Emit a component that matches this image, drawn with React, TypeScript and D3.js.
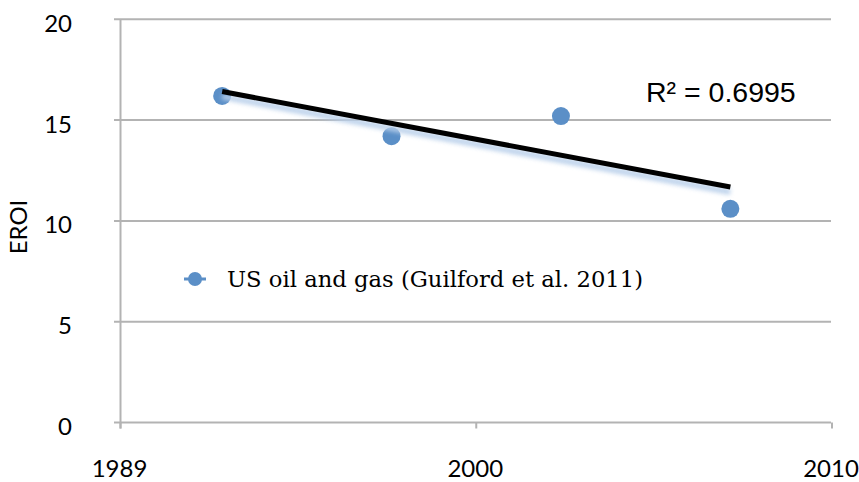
import React from "react";
import * as d3 from "d3";

const years = [1992, 1997, 2002, 2007];
const eroi = [16.2, 14.2, 15.2, 10.6];
const yTicks = [0, 5, 10, 15, 20];
const xTicks = [1989, 1999.5, 2010];
const xTickLabels = ["1989", "2000", "2010"];
const seriesName = "US oil and gas (Guilford et al. 2011)";
const yLabel = "EROI";
const r2Label = "R² = 0.6995";

export default function App() {
  const W = 859, H = 482;
  const x = d3.scaleLinear().domain([1989, 2010]).range([120.5, 832]);
  const y = d3.scaleLinear().domain([0, 20]).range([422.5, 19.3]);

  // linear regression trendline
  const mx = d3.mean(years)!;
  const my = d3.mean(eroi)!;
  let sxy = 0, sxx = 0;
  years.forEach((yr, i) => {
    sxy += (yr - mx) * (eroi[i] - my);
    sxx += (yr - mx) ** 2;
  });
  const slope = sxy / sxx;
  const intercept = my - slope * mx;
  const x0 = years[0], x1 = years[years.length - 1];
  const trend = [
    [x0, intercept + slope * x0],
    [x1, intercept + slope * x1],
  ];
  const line = d3.line<number[]>().x((d) => x(d[0])).y((d) => y(d[1]));

  const grid = "#b3b3b3";
  const blue = "#5b8fc7";

  return (
    <svg width={W} height={H} style={{ position: "absolute", left: 0, top: 0, background: "#fff" }}>
      <defs>
        <filter id="blur" x="-10%" y="-200%" width="120%" height="500%">
          <feGaussianBlur stdDeviation="2" />
        </filter>
      </defs>
      {yTicks.map((t) => (
        <g key={t}>
          <line x1={114} x2={831} y1={y(t)} y2={y(t)} stroke={grid} strokeWidth={2} />
          <text x={72} y={y(t) + 3} textAnchor="end" dominantBaseline="central" fontFamily="Lato" fontSize={24} fill="#000">
            {t}
          </text>
        </g>
      ))}
      <line x1={x(1989)} x2={x(1989)} y1={y(20)} y2={y(0) + 6} stroke={grid} strokeWidth={2} />
      {xTicks.map((t, i) => (
        <g key={t}>
          <line x1={x(t)} x2={x(t)} y1={y(0)} y2={y(0) + 6} stroke={grid} strokeWidth={2} />
          <text x={x(t) - 1} y={477} textAnchor="middle" fontFamily="Lato" fontSize={24} fill="#000">
            {xTickLabels[i]}
          </text>
        </g>
      ))}
      <text
        transform={`translate(27,227) rotate(-90)`}
        textAnchor="middle"
        fontFamily="Lato"
        fontSize={24}
        fill="#000"
      >
        {yLabel}
      </text>
      {years.map((yr, i) => (
        <circle key={yr} cx={x(yr)} cy={y(eroi[i])} r={9} fill={blue} />
      ))}
      <path d={line(trend)!} transform="translate(0,5)" stroke="#b8cfea" strokeWidth={6} fill="none" filter="url(#blur)" opacity={0.9} />
      <path d={line(trend)!} stroke="#000" strokeWidth={5} fill="none" />
      <text x={646} y={101.5} fontFamily="Liberation Sans, Arial" fontSize={28.5} fill="#000">
        {r2Label}
      </text>
      <line x1={184} x2={206} y1={279} y2={279} stroke={blue} strokeWidth={3} />
      <circle cx={195} cy={279} r={7} fill={blue} />
      <text x={227} y={286.5} fontFamily="DejaVu Serif, serif" fontSize={23} fill="#000" textLength={416} lengthAdjust="spacingAndGlyphs">
        {seriesName}
      </text>
    </svg>
  );
}
